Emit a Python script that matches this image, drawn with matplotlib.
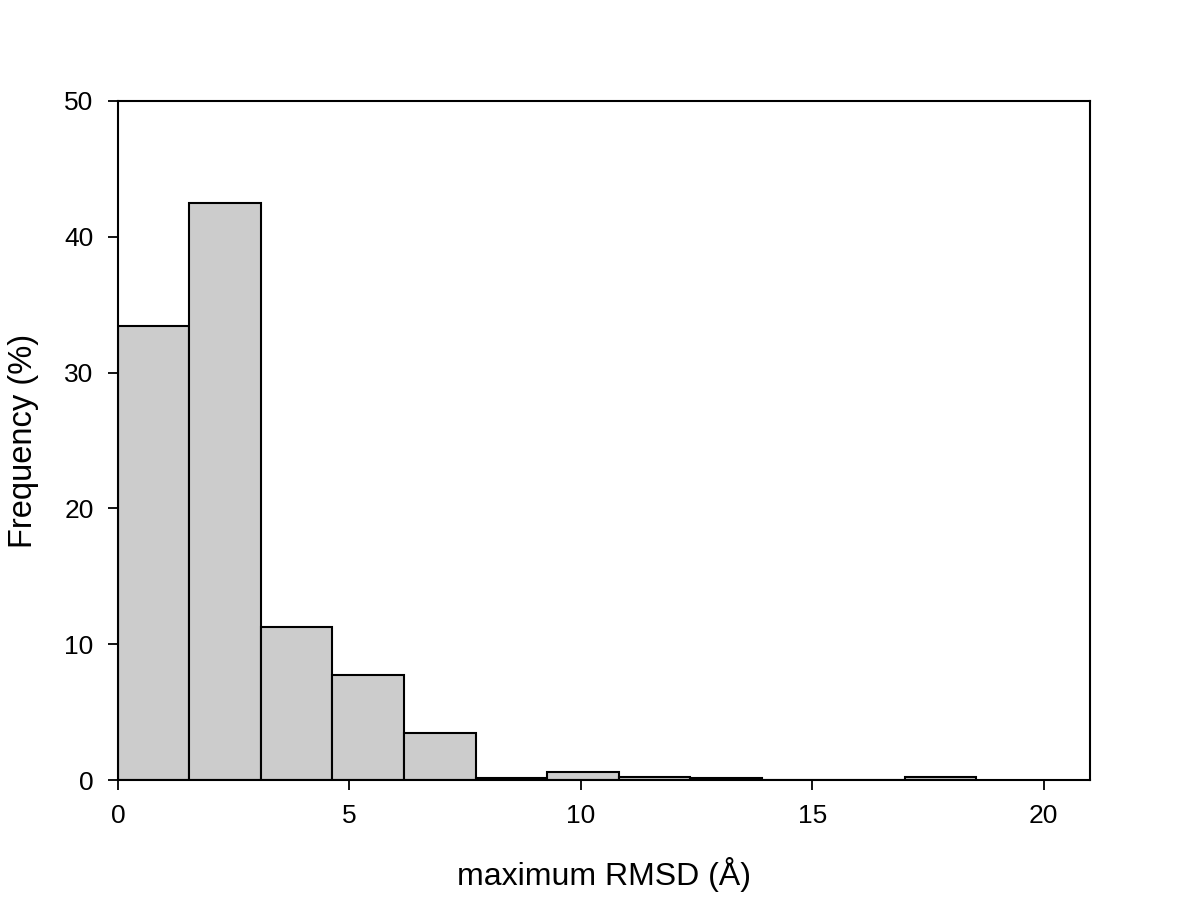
import matplotlib
matplotlib.use("Agg")
import matplotlib.pyplot as plt
import numpy as np

plt.rcParams['font.family'] = ['Liberation Sans', 'DejaVu Sans']

bin_width = 18.54 / 12
bin_edges = [i * bin_width for i in range(13)]
frequency = [33.45, 42.5, 11.3, 7.75, 3.45, 0.18, 0.57, 0.2, 0.13, 0.0, 0.0, 0.2]
x_ticks = [0, 5, 10, 15, 20]
y_ticks = [0, 10, 20, 30, 40, 50]

fig = plt.figure(figsize=(12, 9.14), dpi=100)
ax = fig.add_axes([0.0983, 0.1466, 0.81, 0.7429])

lefts = bin_edges[:-1]
widths = np.diff(bin_edges)
ax.bar(lefts, frequency, width=widths, align='edge', color='#cccccc',
       edgecolor='black', linewidth=1.5)

ax.set_xlim(0, 21)
ax.set_ylim(0, 50)
ax.set_xticks(x_ticks)
ax.set_yticks(y_ticks)
ax.tick_params(direction='out', length=7.5, width=1.3, labelsize=19, pad=10)
for s in ax.spines.values():
    s.set_linewidth(1.5)
ax.set_xlabel('maximum RMSD (Å)', fontsize=23, labelpad=21)
ax.set_ylabel('Frequency (%)', fontsize=23.5, labelpad=18)

fig.savefig('out.png', dpi=100)
